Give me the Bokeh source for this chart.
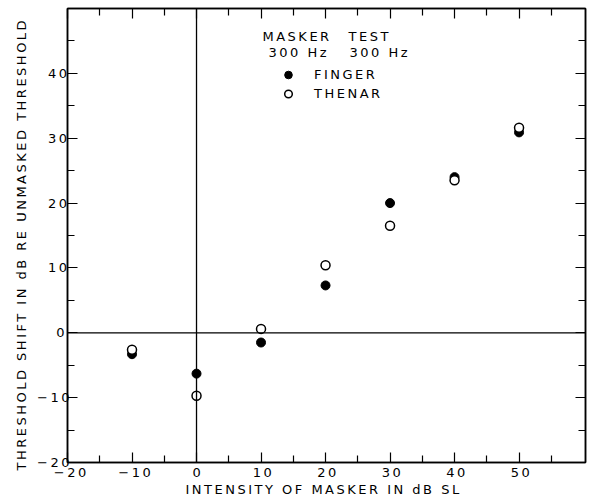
from bokeh.plotting import figure
from bokeh.models import (LinearAxis, Span, Label, Legend, LegendItem, Range1d, FixedTicker,
                          InlineStyleSheet, Title)
from bokeh.embed import file_html
from bokeh.resources import INLINE

masker_db = [-10, 0, 10, 20, 30, 40, 50]
finger = [-3.3, -6.3, -1.5, 7.3, 20.0, 24.0, 30.9]
thenar = [-2.6, -9.7, 0.6, 10.4, 16.5, 23.5, 31.6]
x_ticks = [-20, -10, 0, 10, 20, 30, 40, 50]
y_ticks = [-20, -10, 0, 10, 20, 30, 40]
x_minor = [-15, -5, 5, 15, 25, 35, 45, 55]
y_minor = [-15, -5, 5, 15, 25, 35, 45]
x_title = "INTENSITY OF MASKER IN dB SL"
y_title = "THRESHOLD SHIFT IN dB RE UNMASKED THRESHOLD"
header_cols = ["MASKER", "TEST"]
header_freqs = ["300 Hz", "300 Hz"]

FONT = "DejaVu Sans"
FS = "13px"

css = InlineStyleSheet(css=":host { letter-spacing: 2.5px; }")

p = figure(width=591, height=500, output_backend="svg", toolbar_location=None,
           x_range=Range1d(-20, 60.3), y_range=Range1d(-20, 50),
           min_border_left=67, min_border_right=6, min_border_top=8, min_border_bottom=38,
           x_axis_location=None, y_axis_location=None, stylesheets=[css])
p.grid.visible = False
p.outline_line_color = "black"
p.outline_line_width = 1.5
p.background_fill_color = "white"
p.border_fill_color = "white"

def style(ax, labels=True):
    ax.axis_line_color = "black"
    ax.axis_line_width = 1.5
    ax.major_tick_in = 10
    ax.major_tick_out = 0
    ax.minor_tick_in = 7
    ax.minor_tick_out = 0
    ax.major_tick_line_width = 1.2
    ax.minor_tick_line_width = 1.2
    ax.major_label_text_font = FONT
    ax.major_label_text_font_size = FS
    ax.major_label_text_color = "black"
    if not labels:
        ax.major_label_text_alpha = 0
        ax.major_label_text_font_size = "1px"
        ax.major_label_standoff = 0

xb = LinearAxis(ticker=FixedTicker(ticks=x_ticks, minor_ticks=x_minor))
style(xb)
xb.major_label_standoff = 5
p.add_layout(xb, "below")

yl = LinearAxis(ticker=FixedTicker(ticks=y_ticks, minor_ticks=y_minor))
style(yl)
yl.major_label_standoff = 3
p.add_layout(yl, "left")

xt = LinearAxis(ticker=FixedTicker(ticks=x_ticks, minor_ticks=x_minor))
style(xt, labels=False)
p.add_layout(xt, "above")

yr = LinearAxis(ticker=FixedTicker(ticks=y_ticks + [50], minor_ticks=y_minor))
style(yr, labels=False)
p.add_layout(yr, "right")

# axis titles as side-panel titles, left-aligned so the letter spacing does not shift them
p.add_layout(Title(text=x_title, align="left", offset=118, standoff=0,
                   text_font=FONT, text_font_size=FS, text_font_style="normal",
                   text_color="black"), "below")
p.add_layout(Title(text=y_title, align="left", offset=-8, standoff=12,
                   text_font=FONT, text_font_size=FS, text_font_style="normal",
                   text_color="black"), "left")

p.add_layout(Span(location=0, dimension="height", line_color="black", line_width=1.3))
p.add_layout(Span(location=0, dimension="width", line_color="black", line_width=1.3))

r_f = p.scatter(masker_db, finger, size=9, marker="circle", fill_color="black",
                line_color="black", line_width=1)
r_t = p.scatter(masker_db, thenar, size=9, marker="circle", fill_color="white",
                line_color="black", line_width=1.5)

hdr_x = [10.23, 23.56]
frq_x = [11.16, 23.71]
for txt, xx in zip(header_cols, hdr_x):
    p.add_layout(Label(x=xx, y=45.7, text=txt, text_font=FONT, text_font_size=FS,
                       text_baseline="middle", text_align="left", text_color="black"))
for txt, xx in zip(header_freqs, frq_x):
    p.add_layout(Label(x=xx, y=43.15, text=txt, text_font=FONT, text_font_size=FS,
                       text_baseline="middle", text_align="left", text_color="black"))

leg = Legend(items=[LegendItem(label="FINGER", renderers=[r_f]),
                    LegendItem(label="THENAR", renderers=[r_t])],
             location=(211, 359), padding=0, margin=0, spacing=0,
             glyph_height=19, glyph_width=20, label_standoff=16,
             label_text_font=FONT, label_text_font_size=FS, label_text_color="black",
             border_line_color=None, background_fill_alpha=0)
p.add_layout(leg, "center")

open("out.html", "w").write(file_html(p, INLINE))
